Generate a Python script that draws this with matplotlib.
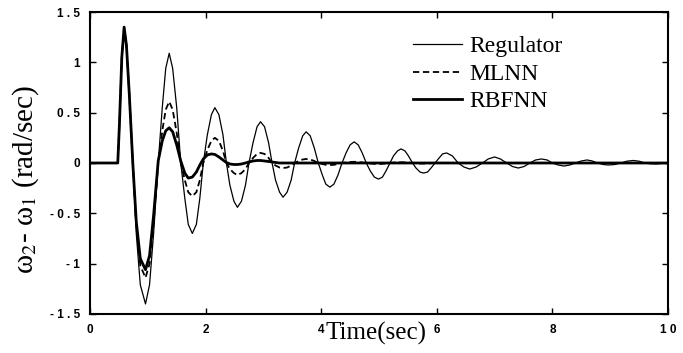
import matplotlib
matplotlib.use("Agg")
import matplotlib.pyplot as plt

# time points (s): extrema, zero crossings and points in between
t = [0.00, 0.48, 0.51, 0.55, 0.59,
     0.63, 0.68, 0.74, 0.80, 0.87, 0.96,
     1.03, 1.10, 1.18, 1.25, 1.31, 1.37,
     1.43, 1.50, 1.57, 1.64, 1.70, 1.77,
     1.84, 1.90, 1.96, 2.03, 2.10, 2.16,
     2.23, 2.30, 2.36, 2.42, 2.49, 2.55,
     2.62, 2.69, 2.75, 2.82, 2.89, 2.95,
     3.02, 3.09, 3.15, 3.21, 3.28, 3.34,
     3.41, 3.48, 3.54, 3.61, 3.68, 3.74,
     3.81, 3.88, 3.95, 4.02, 4.08, 4.15,
     4.22, 4.29, 4.36, 4.43, 4.50, 4.57,
     4.64, 4.71, 4.78, 4.85, 4.92, 4.99,
     5.06, 5.12, 5.19, 5.25, 5.32, 5.38,
     5.45, 5.51, 5.58, 5.64, 5.71, 5.77,
     5.84, 5.90, 5.97, 6.04, 6.10, 6.17,
     6.27, 6.37, 6.47, 6.57,
     6.68, 6.79, 6.89, 7.00,
     7.10, 7.21, 7.31, 7.41,
     7.51, 7.61, 7.71, 7.81,
     7.91, 8.00, 8.10, 8.20,
     8.30, 8.40, 8.50, 8.60,
     8.69, 8.78, 8.88, 8.97,
     9.08, 9.19, 9.29, 9.40,
     9.50, 9.60, 9.70, 9.80, 10.0]

regulator = [0.0, 0.0, 0.40, 1.05, 1.35,
             1.17, 0.68, 0.0, -0.70, -1.21, -1.40,
             -1.21, -0.70, 0.0, 0.55, 0.94, 1.09,
             0.94, 0.55, 0.0, -0.35, -0.61, -0.70,
             -0.61, -0.35, 0.0, 0.28, 0.48, 0.55,
             0.48, 0.28, 0.0, -0.22, -0.38, -0.44,
             -0.38, -0.22, 0.0, 0.20, 0.36, 0.41,
             0.36, 0.20, 0.0, -0.17, -0.29, -0.34,
             -0.29, -0.17, 0.0, 0.15, 0.27, 0.31,
             0.27, 0.15, 0.0, -0.12, -0.21, -0.24,
             -0.21, -0.12, 0.0, 0.10, 0.18, 0.21,
             0.18, 0.10, 0.0, -0.08, -0.14, -0.16,
             -0.14, -0.08, 0.0, 0.07, 0.12, 0.14,
             0.12, 0.07, 0.0, -0.05, -0.09, -0.10,
             -0.09, -0.05, 0.0, 0.05, 0.09, 0.10,
             0.07, 0.0, -0.04, -0.06,
             -0.04, 0.0, 0.04, 0.06,
             0.04, 0.0, -0.035, -0.05,
             -0.035, 0.0, 0.03, 0.04,
             0.03, 0.0, -0.02, -0.03,
             -0.02, 0.0, 0.02, 0.03,
             0.02, 0.0, -0.015, -0.02,
             -0.015, 0.0, 0.018, 0.025,
             0.018, 0.0, -0.008, -0.01, 0.0]

mlnn = [0.0, 0.0, 0.40, 1.05, 1.35,
        1.17, 0.68, 0.0, -0.62, -1.02, -1.14,
        -1.00, -0.60, 0.0, 0.32, 0.53, 0.61,
        0.53, 0.30, 0.0, -0.17, -0.29, -0.33,
        -0.29, -0.17, 0.0, 0.13, 0.22, 0.25,
        0.22, 0.12, 0.0, -0.06, -0.10, -0.12,
        -0.10, -0.06, 0.0, 0.05, 0.09, 0.10,
        0.09, 0.05, 0.0, -0.025, -0.045, -0.05,
        -0.045, -0.025, 0.0, 0.02, 0.035, 0.04,
        0.035, 0.02, 0.0, -0.01, -0.018, -0.02,
        -0.018, -0.01, 0.0, 0.005, 0.01, 0.012,
        0.01, 0.005, 0.0, -0.005, -0.008, -0.01,
        -0.008, -0.004, 0.0, 0.004, 0.006, 0.007,
        0.006, 0.004, 0.0, -0.003, -0.005, -0.005,
        -0.004, -0.002, 0.0, 0.0, 0.0, 0.0,
        0.0, 0.0, 0.0, 0.0,
        0.0, 0.0, 0.0, 0.0,
        0.0, 0.0, 0.0, 0.0,
        0.0, 0.0, 0.0, 0.0,
        0.0, 0.0, 0.0, 0.0,
        0.0, 0.0, 0.0, 0.0,
        0.0, 0.0, 0.0, 0.0,
        0.0, 0.0, 0.0, 0.0,
        0.0, 0.0, 0.0, 0.0, 0.0]

rbfnn = [0.0, 0.0, 0.40, 1.05, 1.35,
         1.17, 0.68, 0.0, -0.58, -0.95, -1.06,
         -0.92, -0.52, 0.02, 0.22, 0.32, 0.35,
         0.31, 0.18, 0.02, -0.10, -0.15, -0.14,
         -0.09, -0.02, 0.04, 0.08, 0.09, 0.085,
         0.06, 0.03, 0.005, -0.01, -0.015, -0.015,
         -0.01, 0.0, 0.01, 0.02, 0.025, 0.025,
         0.02, 0.015, 0.01, 0.005, 0.0, 0.0,
         0.0, 0.0, 0.0, 0.0, 0.0, 0.0,
         0.0, 0.0, 0.0, 0.0, 0.0, 0.0,
         0.0, 0.0, 0.0, 0.0, 0.0, 0.0,
         0.0, 0.0, 0.0, 0.0, 0.0, 0.0,
         0.0, 0.0, 0.0, 0.0, 0.0, 0.0,
         0.0, 0.0, 0.0, 0.0, 0.0, 0.0,
         0.0, 0.0, 0.0, 0.0, 0.0, 0.0,
         0.0, 0.0, 0.0, 0.0,
         0.0, 0.0, 0.0, 0.0,
         0.0, 0.0, 0.0, 0.0,
         0.0, 0.0, 0.0, 0.0,
         0.0, 0.0, 0.0, 0.0,
         0.0, 0.0, 0.0, 0.0,
         0.0, 0.0, 0.0, 0.0,
         0.0, 0.0, 0.0, 0.0,
         0.0, 0.0, 0.0, 0.0, 0.0]

xticks = [0, 2, 4, 6, 8, 10]
xtick_labels = ["0", "2", "4", "6", "8", "1 0"]
yticks = [-1.5, -1, -0.5, 0, 0.5, 1, 1.5]
ytick_labels = ["- 1 . 5", "- 1", "- 0 . 5", "0", "0 . 5", "1", "1 . 5"]

plt.rcParams["mathtext.fontset"] = "stix"

fig = plt.figure(figsize=(6.83, 3.53), dpi=100)
ax = fig.add_axes([0.1318, 0.1105, 0.8462, 0.8555])

ax.plot(t, regulator, color="black", lw=0.9, label="Regulator")
ax.plot(t, mlnn, color="black", lw=1.3, ls=(0, (3.5, 2)), label="MLNN")
ax.plot(t, rbfnn, color="black", lw=2.0, label="RBFNN")

ax.set_xlim(0, 10)
ax.set_ylim(-1.5, 1.5)
ax.set_xticks(xticks)
ax.set_xticklabels(xtick_labels, family="Liberation Sans", weight="bold", size=8.5)
ax.set_yticks(yticks)
ax.set_yticklabels(ytick_labels, family="Liberation Sans", weight="bold", size=8.5)
ax.tick_params(direction="in", length=4, width=1, top=True, right=True, pad=7)
for s in ax.spines.values():
    s.set_linewidth(1.5)

ax.set_xlabel("Time(sec)", family="Liberation Serif", size=18)
ax.xaxis.set_label_coords(0.495, -0.025)
ax.set_ylabel("ω$_2$- ω$_1$ (rad/sec)", family="Liberation Serif", size=21)
ax.yaxis.set_label_coords(-0.085, 0.444)

leg = ax.legend(loc="upper left", bbox_to_anchor=(0.538, 0.96), frameon=False,
                prop={"family": "Liberation Serif", "size": 17},
                handlelength=2.1, handletextpad=0.3, labelspacing=0.25, borderpad=0)

fig.savefig("out.png", dpi=100)
